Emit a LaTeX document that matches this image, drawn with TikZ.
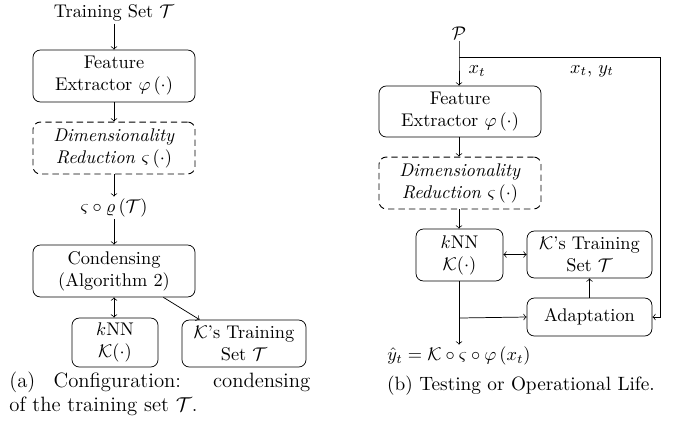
\documentclass[tikz,border=0pt]{standalone}
\usepackage{amsmath}
\usetikzlibrary{calc}
\begin{document}
\begin{tikzpicture}[x=0.545pt,y=-0.545pt,
  blk/.style={draw,rounded corners=4pt,align=center,inner sep=2pt},
  dblk/.style={blk,line width=0.5pt,dash pattern=on 3.5pt off 2.2pt},
  lbl/.style={inner sep=1pt},
  captxt/.style={inner sep=0pt,font=\fontsize{10.5}{12.6}\selectfont},
  arr/.style={->},
  darr/.style={<->}]
\useasboundingbox (0,0) rectangle (683,431);
% ---------- (a) ----------
\node[lbl] (ts) at (114,13) {Training Set $\mathcal{T}$};
\node[blk,minimum width=88.3pt,minimum height=28.3pt] (fe1) at (114,76) {Feature\\Extractor $\varphi\left(\cdot\right)$};
\node[dblk,minimum width=88.3pt,minimum height=28.3pt] (dr1) at (114,148) {\textit{Dimensionality}\\\textit{Reduction} $\varsigma\left(\cdot\right)$};
\node[lbl] (comp) at (114,208) {$\varsigma\circ\varrho\left(\mathcal{T}\right)$};
\node[blk,minimum width=88.3pt,minimum height=28.3pt] (cond) at (114,271) {Condensing\\(Algorithm 2)};
\node[blk,minimum width=46.9pt,minimum height=26.7pt] (knn1) at (115,342.5) {$k$NN\\$\mathcal{K}(\cdot)$};
\node[blk,minimum width=67.6pt,minimum height=25.6pt] (tsA) at (244,343.5) {$\mathcal{K}$'s Training\\Set $\mathcal{T}$};
\node[captxt,font=\fontsize{11.3}{12.6}\selectfont,anchor=north west,text width=164pt,align=justify] (capa) at (9,372) {(a) Configuration: condensing\linebreak of the training set $\mathcal{T}$.};
\draw[arr] (ts) -- (fe1);
\draw[arr] (fe1) -- (dr1);
\draw[arr] (dr1) -- (comp);
\draw[arr] (comp) -- (cond);
\draw[darr] (cond.south) -- (cond.south |- knn1.north);
\draw[arr] ($(cond.south east)+(-32,0)$) -- ($(tsA.north west)+(18,0)$);
% ---------- (b) ----------
\node[lbl] (P) at (459,33) {$\mathcal{P}$};
\node[blk,minimum width=88.3pt,minimum height=27.8pt] (fe2) at (460,111.5) {Feature\\Extractor $\varphi\left(\cdot\right)$};
\node[dblk,minimum width=88.3pt,minimum height=28.3pt] (dr2) at (460,183) {\textit{Dimensionality}\\\textit{Reduction} $\varsigma\left(\cdot\right)$};
\node[blk,minimum width=47.4pt,minimum height=28.3pt] (knn2) at (459.5,255) {$k$NN\\$\mathcal{K}(\cdot)$};
\node[blk,minimum width=68.1pt,minimum height=25.6pt] (tsB) at (589.5,254.5) {$\mathcal{K}$'s Training\\Set $\mathcal{T}$};
\node[blk,minimum width=68.1pt,minimum height=20.7pt] (adapt) at (589.5,317) {Adaptation};
\node[lbl] (out) at (459,356) {$\hat{y}_t = \mathcal{K}\circ\varsigma\circ\varphi\left(x_t\right)$};
\node[captxt] (capb) at (521,386) {(b) Testing or Operational Life.};
\coordinate (j1) at (459,57);
\coordinate (c1) at (660,57);
\coordinate (j2) at (459,318);
\draw[arr] (P.south -| j1) -- (j1) -- (j1 |- fe2.north);
\draw[arr] (j1) -- (c1) |- (adapt.east);
\node[lbl] (lx) at (477,71) {$x_t$};
\node[lbl] (lxy) at (592,71) {$x_t$, $y_t$};
\draw[arr] (fe2.south -| j1) -- (j1 |- dr2.north);
\draw[arr] (dr2.south -| j1) -- (j1 |- knn2.north);
\draw[darr] (knn2.east |- tsB.west) -- (tsB.west);
\draw[arr] (adapt.north) -- (tsB.south);
\draw[arr] (knn2.south -| j1) -- (j1 |- out.north);
\draw[arr] (j2) -- (adapt.west);
\end{tikzpicture}
\end{document}
